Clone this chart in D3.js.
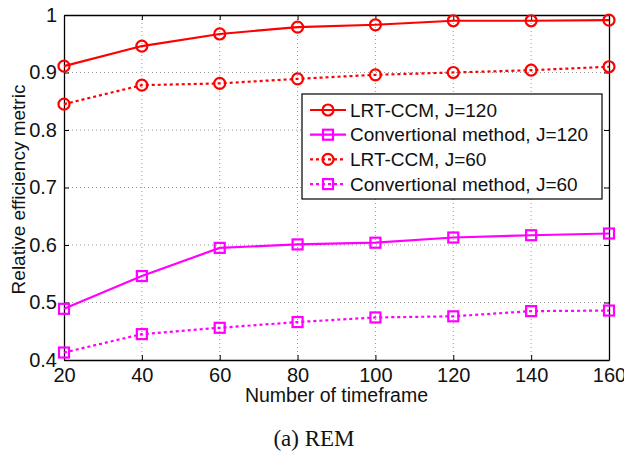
<!DOCTYPE html>
<html>
<head>
<meta charset="utf-8">
<script src="https://cdn.jsdelivr.net/npm/d3@7"></script>
<style>
  body { margin: 0; background: #fff; }
  text { font-family: Arial, "Liberation Sans", sans-serif; fill: #111; }
</style>
</head>
<body>
<div id="chart"></div>
<script>
// Data
var timeframes = [20, 40, 60, 80, 100, 120, 140, 160];
var lrtJ120 = [0.911, 0.946, 0.967, 0.979, 0.983, 0.990, 0.990, 0.991];
var convJ120 = [0.489, 0.546, 0.595, 0.601, 0.604, 0.613, 0.617, 0.620];
var lrtJ60 = [0.845, 0.878, 0.881, 0.889, 0.896, 0.900, 0.904, 0.910];
var convJ60 = [0.413, 0.445, 0.456, 0.466, 0.474, 0.476, 0.485, 0.486];
var yTicks = [0.4, 0.5, 0.6, 0.7, 0.8, 0.9, 1];

var series = [
    {name: "LRT-CCM, J=120", values: lrtJ120, color: "#ff0000", dash: null, marker: "circle"},
    {name: "Convertional method, J=120", values: convJ120, color: "#ff00ff", dash: null, marker: "square"},
    {name: "LRT-CCM, J=60", values: lrtJ60, color: "#ff0000", dash: "3,3", marker: "circle"},
    {name: "Convertional method, J=60", values: convJ60, color: "#ff00ff", dash: "3,3", marker: "square"}
];

var svg = d3.select("#chart").append("svg")
    .attr("width", 624)
    .attr("height", 452);

// plot box
var plotLeft = 64, plotRight = 609, plotTop = 15, plotBottom = 360;

var xScale = d3.scaleLinear().domain([20, 160]).range([plotLeft, plotRight]);
var yScale = d3.scaleLinear().domain([0.4, 1]).range([plotBottom, plotTop]);

// grid
var gridG = svg.append("g").attr("class", "grid");
gridG.selectAll(".gx")
    .data(timeframes.slice(1, -1))
    .enter().append("line")
    .attr("x1", d => xScale(d)).attr("x2", d => xScale(d))
    .attr("y1", plotTop).attr("y2", plotBottom)
    .attr("stroke", "#999").attr("stroke-width", 1)
    .attr("stroke-dasharray", "1,3");
gridG.selectAll(".gy")
    .data(yTicks.slice(1, -1))
    .enter().append("line")
    .attr("x1", plotLeft).attr("x2", plotRight)
    .attr("y1", d => yScale(d)).attr("y2", d => yScale(d))
    .attr("stroke", "#999").attr("stroke-width", 1)
    .attr("stroke-dasharray", "1,3");

// axes (ticks pointing inward, matlab style)
var xAxis = d3.axisBottom(xScale).tickValues(timeframes).tickSizeInner(-5).tickSizeOuter(0).tickPadding(7);
var yAxis = d3.axisLeft(yScale).tickValues(yTicks).tickFormat(d3.format("")).tickSizeInner(-5).tickSizeOuter(0).tickPadding(7);

var xAxisG = svg.append("g")
    .attr("transform", "translate(0," + plotBottom + ")")
    .call(xAxis);
var yAxisG = svg.append("g")
    .attr("transform", "translate(" + plotLeft + ",0)")
    .call(yAxis);
svg.append("g")
    .attr("transform", "translate(0," + plotTop + ")")
    .call(d3.axisTop(xScale).tickValues(timeframes).tickSizeInner(-5).tickSizeOuter(0).tickFormat(""));
svg.append("g")
    .attr("transform", "translate(" + plotRight + ",0)")
    .call(d3.axisRight(yScale).tickValues(yTicks).tickSizeInner(-5).tickSizeOuter(0).tickFormat(""));

svg.selectAll(".domain").attr("stroke", "#000").attr("stroke-width", 1.3);
svg.selectAll(".tick line").attr("stroke", "#000");
svg.selectAll(".tick text")
    .style("font-family", "Arial, 'Liberation Sans', sans-serif")
    .style("font-size", "20px")
    .attr("fill", "#111");
xAxisG.selectAll(".tick text").attr("dy", "0.75em");

// axis labels
svg.append("text")
    .attr("x", (plotLeft + plotRight) / 2)
    .attr("y", 402)
    .attr("text-anchor", "middle")
    .style("font-size", "19.5px")
    .text("Number of timeframe");
svg.append("text")
    .attr("transform", "translate(25," + ((plotTop + plotBottom) / 2 + 2) + ")rotate(-90)")
    .attr("text-anchor", "middle")
    .style("font-size", "19px")
    .text("Relative efficiency metric");

// caption
svg.append("text")
    .attr("x", 314)
    .attr("y", 446)
    .attr("text-anchor", "middle")
    .style("font-family", "'Liberation Serif', 'Times New Roman', serif")
    .style("font-size", "23px")
    .attr("fill", "#333")
    .text("(a) REM");

// lines
var line = d3.line()
    .x((d, i) => xScale(timeframes[i]))
    .y(d => yScale(d));

function drawMarker(g, type, x, y, color) {
    if (type === "circle") {
        g.append("circle")
            .attr("cx", x).attr("cy", y).attr("r", 5.5)
            .attr("fill", "none").attr("stroke", color).attr("stroke-width", 2.2);
    } else {
        g.append("rect")
            .attr("x", x - 5).attr("y", y - 5)
            .attr("width", 10).attr("height", 10)
            .attr("fill", "none").attr("stroke", color).attr("stroke-width", 2.2);
    }
}

series.forEach(function(s) {
    var g = svg.append("g");
    g.append("path")
        .attr("d", line(s.values))
        .attr("fill", "none")
        .attr("stroke", s.color)
        .attr("stroke-width", 2.2)
        .attr("stroke-dasharray", s.dash);
    s.values.forEach(function(v, i) {
        drawMarker(g, s.marker, xScale(timeframes[i]), yScale(v), s.color);
    });
});

// legend
var legendG = svg.append("g").attr("transform", "translate(302,94)");
legendG.append("rect")
    .attr("width", 300).attr("height", 105)
    .attr("fill", "#fff").attr("stroke", "#000").attr("stroke-width", 1.2);
series.forEach(function(s, i) {
    var y = 16 + i * 24.7;
    legendG.append("line")
        .attr("x1", 8).attr("x2", 44)
        .attr("y1", y).attr("y2", y)
        .attr("stroke", s.color).attr("stroke-width", 2.2)
        .attr("stroke-dasharray", s.dash);
    drawMarker(legendG, s.marker, 26, y, s.color);
    legendG.append("text")
        .attr("x", 48)
        .attr("y", y)
        .attr("dy", "0.35em")
        .style("font-size", "19px")
        .text(s.name);
});
</script>
</body>
</html>
